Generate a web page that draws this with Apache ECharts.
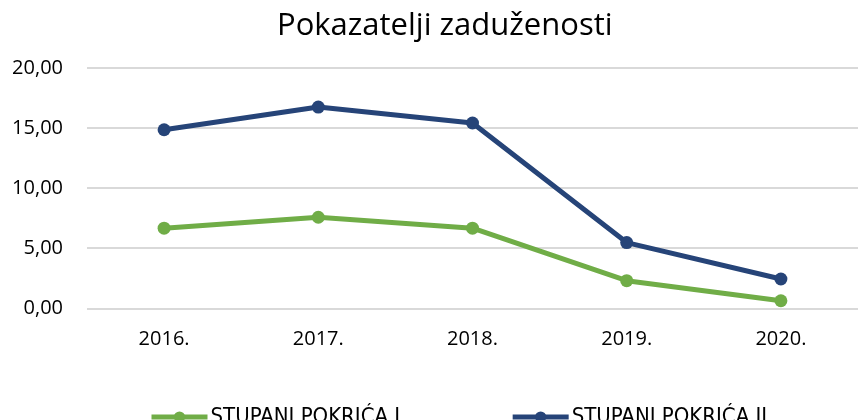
<!DOCTYPE html>
<html>
<head>
<meta charset="utf-8">
<script src="https://cdn.jsdelivr.net/npm/echarts@6/dist/echarts.min.js"></script>
<style>
    html, body { margin: 0; padding: 0; background: #fff; }
    #main { width: 858px; height: 420px; }
</style>
</head>
<body>
<div id="main"></div>
<script type="text/javascript">
    // podaci
    var godine = ['2016.', '2017.', '2018.', '2019.', '2020.'];
    var stupanjI = [6.67, 7.58, 6.67, 2.30, 0.63];
    var stupanjII = [14.86, 16.75, 15.42, 5.47, 2.44];
    var yTicks = [0, 5, 10, 15, 20];

    var myChart = echarts.init(document.getElementById('main'));

    var option = {
        animation: false,
        title: {
            text: 'Pokazatelji zaduženosti',
            left: 272,
            top: 6,
            textStyle: {
                fontFamily: 'Open Sans',
                fontWeight: 'normal',
                fontSize: 31,
                color: '#000'
            }
        },
        grid: {
            left: 87,
            top: 68,
            width: 780,
            height: 240.3
        },
        legend: {
            data: ['STUPANJ POKRIĆA I', 'STUPANJ POKRIĆA II'],
            left: 144,
            top: 401,
            itemWidth: 56,
            itemHeight: 14,
            itemGap: 110,
            lineStyle: { width: 5 },
            textStyle: {
                fontFamily: 'DejaVu Sans Condensed',
                fontSize: 22,
                color: '#000',
                padding: [0, 0, 0, -2]
            }
        },
        xAxis: {
            type: 'category',
            data: godine,
            axisLine: { show: false },
            axisTick: { show: false },
            axisLabel: {
                margin: 21,
                fontFamily: 'Open Sans',
                fontSize: 20,
                color: '#000'
            }
        },
        yAxis: {
            type: 'value',
            min: yTicks[0],
            max: yTicks[yTicks.length - 1],
            interval: 5,
            axisLabel: {
                margin: 24,
                fontFamily: 'Open Sans',
                fontSize: 20,
                color: '#000',
                formatter: function (v) { return v.toFixed(2).replace('.', ','); }
            },
            splitLine: { lineStyle: { color: '#d9d9d9', width: 2 } }
        },
        series: [
            {
                name: 'STUPANJ POKRIĆA I',
                type: 'line',
                data: stupanjI,
                color: '#70ad47',
                symbol: 'circle',
                symbolSize: 13,
                lineStyle: { width: 5 }
            },
            {
                name: 'STUPANJ POKRIĆA II',
                type: 'line',
                data: stupanjII,
                color: '#264478',
                symbol: 'circle',
                symbolSize: 13,
                lineStyle: { width: 5 }
            }
        ]
    };

    myChart.setOption(option);
</script>
</body>
</html>
